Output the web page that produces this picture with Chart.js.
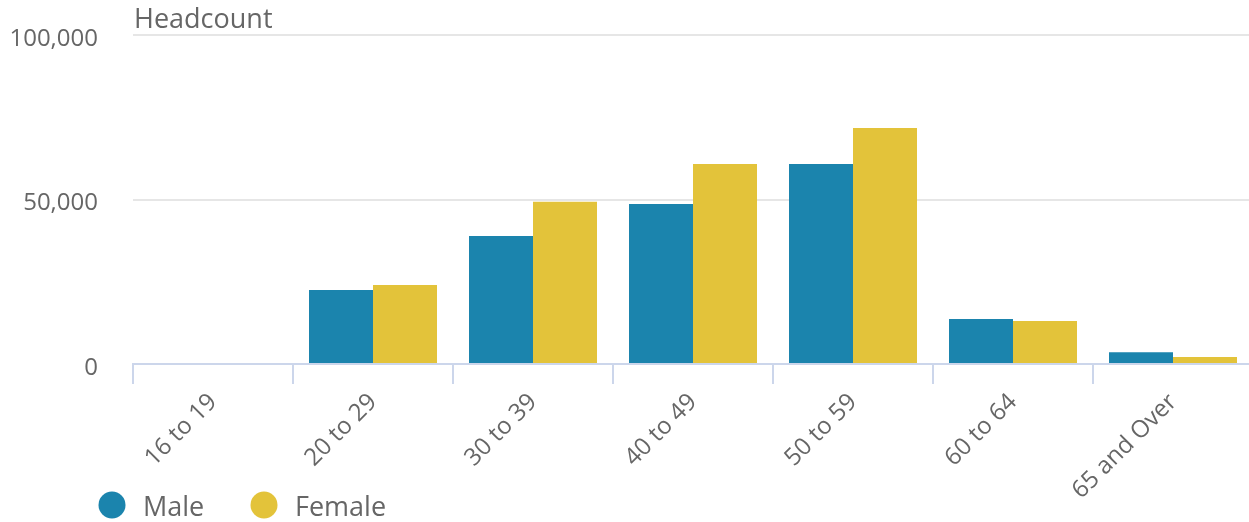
<!DOCTYPE html>
<html>
<head>
<meta charset="utf-8">
<script src="https://cdn.jsdelivr.net/npm/chart.js@4/dist/chart.umd.min.js"></script>
<style>
  html, body { margin: 0; padding: 0; background: #fff; overflow: hidden; }
  #wrap { position: relative; width: 1253px; height: 522px; }
</style>
</head>
<body>
<div id="wrap"><canvas id="ageChart"></canvas></div>
<script>
const ageBands = ['16 to 19', '20 to 29', '30 to 39', '40 to 49', '50 to 59', '60 to 64', '65 and Over'];
const maleCounts = [0, 22500, 38900, 48600, 60800, 13700, 3600];
const femaleCounts = [0, 24000, 49300, 60800, 71700, 13100, 2100];
const yTicks = [0, 50000, 100000];

const maleColor = '#1b84ad';
const femaleColor = '#e3c33a';
const textColor = '#666666';
const fontFamily = '"Open Sans", "Noto Sans", sans-serif';

// axis title and the round legend markers sit outside the normal layout
const extrasPlugin = {
  id: 'extras',
  afterDraw(chart) {
    const ctx = chart.ctx;
    const area = chart.chartArea;
    ctx.save();
    ctx.fillStyle = textColor;
    ctx.font = '27px ' + fontFamily;
    ctx.textBaseline = 'alphabetic';
    ctx.textAlign = 'left';
    ctx.fillText('Headcount', area.left + 1, 28);

    let x = 112;
    const y = 505;
    chart.data.datasets.forEach((ds) => {
      ctx.beginPath();
      ctx.fillStyle = ds.backgroundColor;
      ctx.arc(x, y, 13.5, 0, Math.PI * 2);
      ctx.fill();
      ctx.fillStyle = textColor;
      ctx.textBaseline = 'middle';
      ctx.fillText(ds.label, x + 31, y + 3);
      x += 152;
    });
    ctx.restore();
  }
};

new Chart(document.getElementById('ageChart'), {
  type: 'bar',
  data: {
    labels: ageBands,
    datasets: [
      { label: 'Male', data: maleCounts, backgroundColor: maleColor, borderWidth: 0 },
      { label: 'Female', data: femaleCounts, backgroundColor: femaleColor, borderWidth: 0 }
    ]
  },
  options: {
    responsive: true,
    maintainAspectRatio: false,
    animation: false,
    layout: { padding: { top: 35, right: 0, bottom: 0, left: 0 } },
    datasets: { bar: { categoryPercentage: 0.8, barPercentage: 1 } },
    plugins: {
      legend: { display: false },
      tooltip: { enabled: false }
    },
    scales: {
      x: {
        offset: true,
        grid: { display: true, drawOnChartArea: false, offset: true, tickLength: 20, color: '#ccd6eb', lineWidth: 2 },
        border: { display: true, color: '#ccd6eb', width: 2 },
        ticks: {
          autoSkip: false,
          minRotation: 45,
          maxRotation: 45,
          padding: 4,
          color: textColor,
          font: { family: fontFamily, size: 24 }
        },
        afterFit(scale) { scale.height = 158; }
      },
      y: {
        min: 0,
        max: 100000,
        afterBuildTicks(scale) { scale.ticks = yTicks.map((v) => ({ value: v })); },
        grid: { color: '#e6e6e6', lineWidth: 2, drawTicks: false },
        border: { display: false },
        ticks: {
          padding: 35,
          labelOffset: 4,
          color: textColor,
          font: { family: fontFamily, size: 24 },
          callback: (v) => v.toLocaleString('en-US')
        },
        afterFit(scale) {
          scale.width = 133;
          // the wide label gap should not push the plot down
          scale.paddingTop = 14;
          scale.paddingBottom = 14;
        }
      }
    }
  },
  plugins: [extrasPlugin]
});
</script>
</body>
</html>
